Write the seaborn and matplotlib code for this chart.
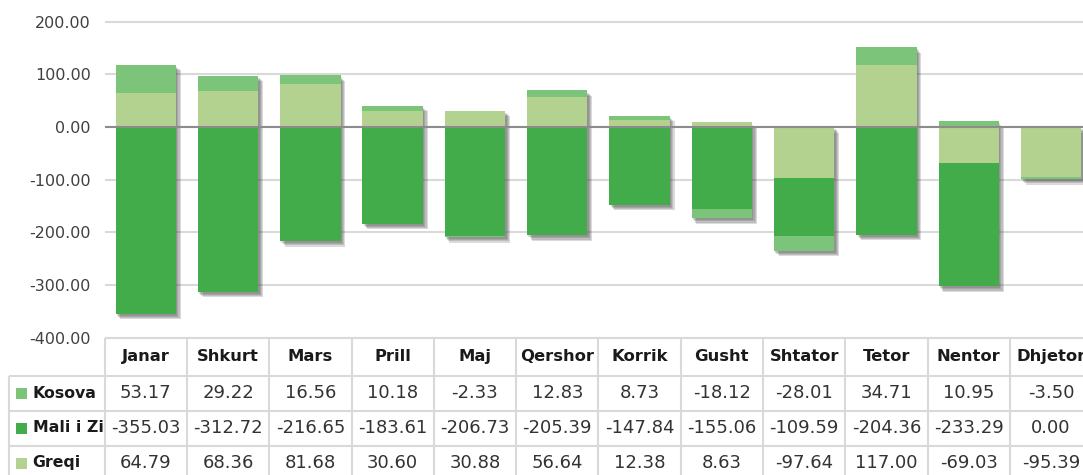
import matplotlib
matplotlib.use("Agg")
import matplotlib.pyplot as plt
import matplotlib.patheffects as pe
from matplotlib.patches import Rectangle
import numpy as np
import pandas as pd
import seaborn as sns

months = ["Janar", "Shkurt", "Mars", "Prill", "Maj", "Qershor",
          "Korrik", "Gusht", "Shtator", "Tetor", "Nentor", "Dhjetor"]
kosova = [53.17, 29.22, 16.56, 10.18, -2.33, 12.83, 8.73, -18.12, -28.01, 34.71, 10.95, -3.50]
mali = [-355.03, -312.72, -216.65, -183.61, -206.73, -205.39, -147.84, -155.06, -109.59, -204.36, -233.29, 0.00]
greqi = [64.79, 68.36, 81.68, 30.60, 30.88, 56.64, 12.38, 8.63, -97.64, 117.00, -69.03, -95.39]

series_names = ["Kosova", "Mali i Zi", "Greqi"]
colors = {"Kosova": "#7dc47b", "Mali i Zi": "#42ac4a", "Greqi": "#b3d18f"}

# layout (pixels)
W, H = 1083, 475
col_left, col_w = 104.6, 82.3
y_top_px, y_table = 21.7, 337.5
row_y = [337.5, 375.5, 410.5, 445.5, 480.5]
label_left = 9.3

sns.set_theme(style="white")
plt.rcParams["font.family"] = ["DejaVu Sans"]

fig = plt.figure(figsize=(W / 100, H / 100), dpi=100)

# main chart axes, right edge runs past the figure like in the source
px_per_unit = (y_table - y_top_px) / 600
ymax = 200 + y_top_px / px_per_unit
ax = fig.add_axes([col_left / W, (H - y_table) / H, 12 * col_w / W, y_table / H])
ax.patch.set_alpha(0)

# stack: Greqi nearest the axis, then Mali i Zi, then Kosova (pos/neg stacked apart)
df = pd.DataFrame({"month": months, "Kosova": kosova, "Mali i Zi": mali, "Greqi": greqi})
order = ["Greqi", "Mali i Zi", "Kosova"]
pos = df[order].clip(lower=0).cumsum(axis=1)
neg = df[order].clip(upper=0).cumsum(axis=1)

# soft drop shadow faked with a few stacked offsets
shadow = [pe.SimplePatchShadow(offset=(dx, dy), shadow_rgbFace="#4a4a4a", alpha=0.2)
          for dx, dy in [(1.0, -1.6), (1.8, -2.4), (2.6, -3.2), (3.4, -4.0)]]
shadow.append(pe.Normal())
for name in reversed(order):
    effects = shadow if name == "Kosova" else None
    for part in (pos, neg):
        sns.barplot(x=df["month"], y=part[name], color=colors[name], saturation=1,
                    width=0.735, linewidth=0, order=months, ax=ax, zorder=2,
                    path_effects=effects)

ax.axhline(0, color="#8c8c8c", lw=1.5, zorder=5)
ax.set_xlim(-0.5, 11.5)
ax.set_ylim(-400, ymax)
ticks = np.arange(-400, 201, 100)
ax.set_yticks(ticks)
ax.set_yticklabels([f"{t:.2f}" for t in ticks], fontsize=11.5, color="#404040")
ax.yaxis.grid(True, color="#d9d9d9", lw=1.5)
ax.set_axisbelow(True)
ax.tick_params(axis="y", length=0, pad=10)
ax.set_xticks([])
ax.set_xlabel("")
ax.set_ylabel("")
sns.despine(ax=ax, left=True, bottom=True)

# data table under the chart
tax = fig.add_axes([0, 0, 1, 1])
tax.set_xlim(0, W)
tax.set_ylim(H, 0)
tax.axis("off")
grid_c = "#d9d9d9"
col_x = [col_left + i * col_w for i in range(13)]
tax.hlines(row_y[0], col_x[0], col_x[-1], color=grid_c, lw=1.5)
tax.hlines(row_y[1:4], label_left, col_x[-1], color=grid_c, lw=1.5)
tax.vlines(col_x, row_y[0], row_y[-1], color=grid_c, lw=1.5)
tax.vlines(label_left, row_y[1], row_y[-1], color=grid_c, lw=1.5)

for i, m in enumerate(months):
    cx = col_left + (i + 0.5) * col_w
    tax.text(cx, (row_y[0] + row_y[1]) / 2, m, ha="center", va="center",
             fontsize=11.8, fontweight="bold", color="#1a1a1a")

table_rows = {"Kosova": kosova, "Mali i Zi": mali, "Greqi": greqi}
for r, name in enumerate(series_names):
    cy = (row_y[r + 1] + row_y[r + 2]) / 2
    tax.add_patch(Rectangle((16, cy - 5.5), 11, 11, color=colors[name], lw=0))
    tax.text(32.7, cy, name, ha="left", va="center", fontsize=11.3,
             fontweight="bold", color="#1a1a1a")
    for i, v in enumerate(table_rows[name]):
        cx = col_left + (i + 0.5) * col_w
        tax.text(cx, cy, f"{v:.2f}", ha="center", va="center",
                 fontsize=13, color="#333333")

fig.savefig("out.png", dpi=100)
